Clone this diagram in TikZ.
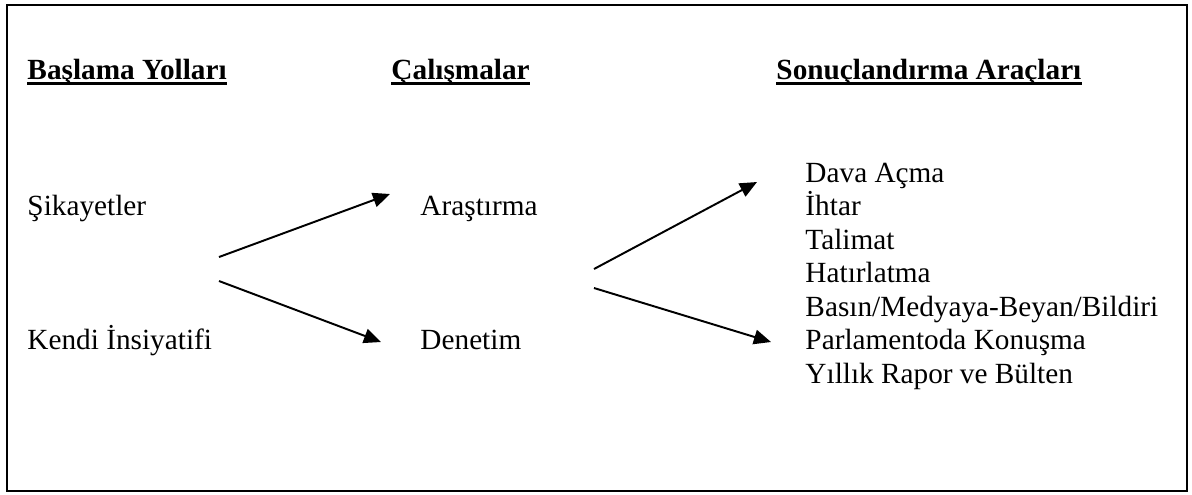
\documentclass[tikz,border=0pt]{standalone}
\usepackage{fontspec}
\setmainfont{Liberation Serif}
\usepackage{tikz}
\usetikzlibrary{arrows.meta}

\begin{document}
\begin{tikzpicture}[
  x=0.41pt, y=-0.41pt,
  every node/.style={font=\fontsize{12}{14}\selectfont, inner sep=0pt, anchor=base west},
  heading/.style={font=\fontsize{12}{14}\selectfont\bfseries},
  uline/.style={line width=1.2pt},
  frame/.style={line width=0.9pt},
  flow/.style={line width=0.8pt, -{Triangle[length=7pt,width=6pt]}}
]
\useasboundingbox (0,0) rectangle (1192,494);

% ------------------------------------------------------------
% Outer frame
% ------------------------------------------------------------
\draw[frame] (7,5) rectangle (1187,491);

% ------------------------------------------------------------
% Column headings (bold, underlined)
% ------------------------------------------------------------
\node[heading] (hbas) at (27,79) {Başlama Yolları};
\node[heading] (hcal) at (391,79) {Çalışmalar};
\node[heading] (hson) at (776,79) {Sonuçlandırma Araçları};
\foreach \h in {hbas,hcal,hson}
  \draw[uline] ([yshift=-2pt]\h.base west) -- ([yshift=-2pt]\h.base east);

% ------------------------------------------------------------
% Left and middle columns
% ------------------------------------------------------------
\node (sik) at (27,215.5) {Şikayetler};
\node (ken) at (27,349.5) {Kendi İnsiyatifi};
\node (ara) at (420,215.5) {Araştırma};
\node (den) at (420,349.5) {Denetim};

% ------------------------------------------------------------
% Right column: one line per tool
% ------------------------------------------------------------
\foreach \t [count=\i] in {Dava Açma, İhtar, Talimat, Hatırlatma,
    Basın/Medyaya-Beyan/Bildiri, Parlamentoda Konuşma, Yıllık Rapor ve Bülten}
  \node (r\i) at (805,{148.5+33.5*\i}) {\t};

% ------------------------------------------------------------
% Arrow end points (the arrows touch no text)
% ------------------------------------------------------------
\coordinate (a1s) at (219,257);  \coordinate (a1e) at (390,194);
\coordinate (a2s) at (219,281);  \coordinate (a2e) at (381,342);
\coordinate (a3s) at (594,269);  \coordinate (a3e) at (757,182);
\coordinate (a4s) at (594,288);  \coordinate (a4e) at (771,342);

\draw[flow] (a1s) -- (a1e);
\draw[flow] (a2s) -- (a2e);
\draw[flow] (a3s) -- (a3e);
\draw[flow] (a4s) -- (a4e);

\end{tikzpicture}
\end{document}
